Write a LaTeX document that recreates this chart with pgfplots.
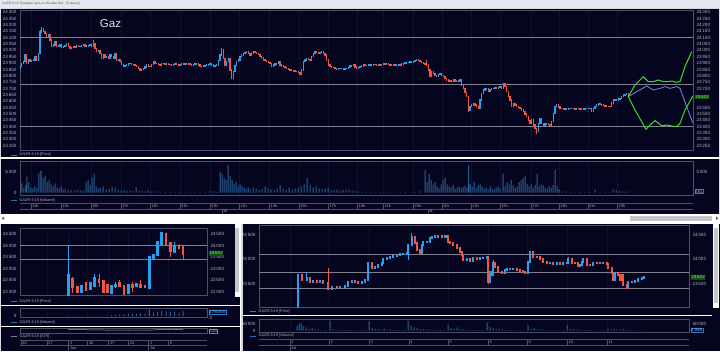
\documentclass[border=0pt]{standalone}
\usepackage{fontspec}
\setmainfont{Liberation Sans}
\usepackage{pgfplots}
\usepackage{pgfplotstable}
\pgfplotsset{compat=1.18}

\definecolor{bgc}{RGB}{5,5,32}
\definecolor{chrome}{RGB}{214,216,222}
\definecolor{titlec}{RGB}{228,232,238}
\definecolor{framec}{RGB}{78,78,102}
\definecolor{gridc}{RGB}{28,28,66}
\definecolor{lvlc}{RGB}{128,128,142}
\definecolor{txtc}{RGB}{178,178,192}
\definecolor{volc}{RGB}{42,96,150}
\definecolor{fgreen}{RGB}{58,222,32}
\definecolor{fblue}{RGB}{118,138,228}
\definecolor{boxg}{RGB}{14,82,14}
\definecolor{boxgt}{RGB}{90,255,90}
\definecolor{boxb}{RGB}{50,120,200}
\definecolor{legg}{RGB}{40,150,40}
\definecolor{legb}{RGB}{40,110,170}
\definecolor{scrollc}{RGB}{196,198,204}

\newcommand{\tf}{\fontsize{4.6}{5}\selectfont}
\newcommand{\lf}{\fontsize{3.8}{4.5}\selectfont}

\pgfplotsset{
  term/.style={scale only axis, anchor=south west, axis background/.style={fill=bgc},
    axis line style={draw=framec, line width=0.5pt}, tick style={draw=none},
    ticklabel style={font=\tf, text=txtc}, scaled ticks=false,
    /pgf/number format/assume math mode=true, /pgf/number format/1000 sep={\,},
    xticklabels={}, clip=true,
    colormap={rb}{rgb255=(240,86,70) rgb255=(40,160,238)},
    point meta min=0, point meta max=1,
    grid style={gridc, line width=0.4pt, dash pattern=on 1pt off 1pt}},
  rlab/.style={scale only axis, anchor=south west, axis line style={draw=none}, tick style={draw=none},
    ticklabel style={font=\tf, text=txtc}, scaled ticks=false,
    /pgf/number format/assume math mode=true, /pgf/number format/1000 sep={\,},
    yticklabel pos=right, xtick=\empty},
  cbody/.style={quiver={u=0, v=\thisrow{c}-\thisrow{o}, colored, every arrow/.append style={line width=#1, line cap=rect}}, point meta={\thisrow{c}>\thisrow{o}}},
  cwick/.style={quiver={u=0, v=\thisrow{h}-\thisrow{l}, colored, every arrow/.append style={line width=#1}}, point meta={\thisrow{c}>\thisrow{o}}},
}

\pgfplotstableread{
x o c
20.0 23860 23872
21.7 23872 23898
23.3 23898 23911
25.0 23911 23964
26.7 23964 23898
28.3 23898 23925
30.0 23925 23911
31.7 23911 23918
33.3 23918 23925
35.0 23925 23951
36.7 23951 23925
38.3 23925 23977
40.0 23977 24150
41.7 24150 24174
43.3 24174 24148
45.0 24148 24135
46.7 24135 24108
48.3 24108 24122
50.0 24122 24082
51.7 24082 24030
53.3 24030 24043
55.0 24043 24069
56.7 24069 24030
58.3 24030 24035
60.0 24035 24043
61.7 24043 24025
63.3 24025 24030
65.0 24030 24040
66.7 24040 24056
68.3 24056 24030
70.0 24030 24016
71.7 24016 24025
73.3 24025 24030
75.0 24030 24022
76.7 24022 24035
78.3 24035 24028
80.0 24028 24030
81.7 24030 24040
83.3 24040 24043
85.0 24043 24030
86.7 24030 24035
88.3 24035 24040
90.0 24040 24043
91.7 24043 24035
93.3 24035 24056
95.0 24056 24016
96.7 24016 23990
98.3 23990 24000
100.0 24000 23977
101.7 23977 23938
103.3 23938 23964
105.0 23964 23945
106.7 23945 23951
108.3 23951 23940
110.0 23940 23964
111.7 23964 23950
113.3 23950 23938
115.0 23938 23977
116.7 23977 23925
118.3 23925 23930
120.0 23930 23911
121.7 23911 23890
123.3 23890 23872
125.0 23872 23880
126.7 23880 23885
128.3 23885 23895
130.0 23895 23898
131.7 23898 23890
133.3 23890 23885
135.0 23885 23880
136.7 23880 23872
138.3 23872 23859
140.0 23859 23846
141.7 23846 23852
143.3 23852 23859
145.0 23859 23870
146.7 23870 23885
148.3 23885 23875
150.0 23875 23872
151.7 23872 23890
153.3 23890 23911
155.0 23911 23895
156.7 23895 23898
158.3 23898 23890
160.0 23890 23885
161.7 23885 23895
163.3 23895 23898
165.0 23898 23893
166.7 23893 23898
168.3 23898 23890
170.0 23890 23888
171.7 23888 23885
173.3 23885 23887
175.0 23887 23892
176.7 23892 23890
178.3 23890 23885
180.0 23885 23887
181.7 23887 23893
183.3 23893 23895
185.0 23895 23890
186.7 23890 23898
188.3 23898 23893
190.0 23893 23890
191.7 23890 23885
193.3 23885 23888
195.0 23888 23893
196.7 23893 23898
198.3 23898 23885
200.0 23885 23872
201.7 23872 23875
203.3 23875 23877
205.0 23877 23880
206.7 23880 23885
208.3 23885 23890
210.0 23890 23898
211.7 23898 23885
213.3 23885 23872
215.0 23872 23880
216.7 23880 23885
218.3 23885 23920
220.0 23920 23964
221.7 23964 24003
223.3 24003 23938
225.0 23938 23885
226.7 23885 23911
228.3 23911 23938
230.0 23938 23846
231.7 23846 23780
233.3 23780 23833
235.0 23833 23880
236.7 23880 23911
238.3 23911 23925
240.0 23925 23951
241.7 23951 23964
243.3 23964 23977
245.0 23977 23985
246.7 23985 23990
248.3 23990 23975
250.0 23975 23964
251.7 23964 23980
253.3 23980 23990
255.0 23990 23985
256.7 23985 23977
258.3 23977 23965
260.0 23965 23951
261.7 23951 23940
263.3 23940 23925
265.0 23925 23918
266.7 23918 23911
268.3 23911 23905
270.0 23905 23898
271.7 23898 23872
273.3 23872 23885
275.0 23885 23892
276.7 23892 23898
278.3 23898 23911
280.0 23911 23885
281.7 23885 23878
283.3 23878 23872
285.0 23872 23865
286.7 23865 23859
288.3 23859 23852
290.0 23852 23846
291.7 23846 23842
293.3 23842 23838
295.0 23838 23836
296.7 23836 23833
298.3 23833 23825
300.0 23825 23814
301.7 23814 23846
303.3 23846 23911
305.0 23911 23925
306.7 23925 23938
308.3 23938 23930
310.0 23930 23925
311.7 23925 23950
313.3 23950 23977
315.0 23977 23990
316.7 23990 23985
318.3 23985 23977
320.0 23977 23985
321.7 23985 23990
323.3 23990 23975
325.0 23975 23964
326.7 23964 23925
328.3 23925 23885
330.0 23885 23872
331.7 23872 23868
333.3 23868 23864
335.0 23864 23860
336.7 23860 23854
338.3 23854 23857
340.0 23857 23859
341.7 23859 23855
343.3 23855 23851
345.0 23851 23855
346.7 23855 23859
348.3 23859 23868
350.0 23868 23877
351.7 23877 23880
353.3 23880 23885
355.0 23885 23870
356.7 23870 23859
358.3 23859 23865
360.0 23865 23872
361.7 23872 23878
363.3 23878 23885
365.0 23885 23882
366.7 23882 23880
368.3 23880 23885
370.0 23885 23888
371.7 23888 23885
373.3 23885 23890
375.0 23890 23887
376.7 23887 23885
378.3 23885 23890
380.0 23890 23885
381.7 23885 23890
383.3 23890 23893
385.0 23893 23888
386.7 23888 23893
388.3 23893 23890
390.0 23890 23885
391.7 23885 23888
393.3 23888 23885
395.0 23885 23882
396.7 23882 23885
398.3 23885 23888
400.0 23888 23885
401.7 23885 23892
403.3 23892 23898
405.0 23898 23900
406.7 23900 23903
408.3 23903 23907
410.0 23907 23909
411.7 23909 23908
413.3 23908 23911
415.0 23911 23918
416.7 23918 23925
418.3 23925 23918
420.0 23918 23911
421.7 23911 23905
423.3 23905 23898
425.0 23898 23892
426.7 23892 23885
428.3 23885 23846
430.0 23846 23793
431.7 23793 23833
433.3 23833 23820
435.0 23820 23805
436.7 23805 23793
438.3 23793 23808
440.0 23808 23820
441.7 23820 23805
443.3 23805 23793
445.0 23793 23780
446.7 23780 23767
448.3 23767 23760
450.0 23760 23754
451.7 23754 23760
453.3 23760 23767
455.0 23767 23760
456.7 23760 23754
458.3 23754 23760
460.0 23760 23767
461.7 23767 23728
463.3 23728 23701
465.0 23701 23670
466.7 23670 23636
468.3 23636 23531
470.0 23531 23557
471.7 23557 23570
473.3 23570 23583
475.0 23583 23570
476.7 23570 23557
478.3 23557 23544
480.0 23544 23610
481.7 23610 23660
483.3 23660 23688
485.0 23688 23695
486.7 23695 23701
488.3 23701 23675
490.0 23675 23690
491.7 23690 23701
493.3 23701 23698
495.0 23698 23705
496.7 23705 23701
498.3 23701 23708
500.0 23708 23715
501.7 23715 23701
503.3 23701 23741
505.0 23741 23715
506.7 23715 23675
508.3 23675 23636
510.0 23636 23610
511.7 23610 23557
513.3 23557 23583
515.0 23583 23570
516.7 23570 23557
518.3 23557 23550
520.0 23550 23544
521.7 23544 23530
523.3 23530 23518
525.0 23518 23500
526.7 23500 23478
528.3 23478 23450
530.0 23450 23426
531.7 23426 23452
533.3 23452 23413
535.0 23413 23387
536.7 23387 23360
538.3 23360 23426
540.0 23426 23465
541.7 23465 23426
543.3 23426 23413
545.0 23413 23420
546.7 23420 23426
548.3 23426 23418
550.0 23418 23413
551.7 23413 23439
553.3 23439 23505
555.0 23505 23557
556.7 23557 23570
558.3 23570 23555
560.0 23555 23544
561.7 23544 23540
563.3 23540 23538
565.0 23538 23542
566.7 23542 23536
568.3 23536 23540
570.0 23540 23544
571.7 23544 23540
573.3 23540 23541
575.0 23541 23538
576.7 23538 23544
578.3 23544 23540
580.0 23540 23538
581.7 23538 23542
583.3 23542 23536
585.0 23536 23540
586.7 23540 23542
588.3 23542 23540
590.0 23540 23544
591.7 23544 23520
593.3 23520 23540
595.0 23540 23557
596.7 23557 23570
598.3 23570 23583
600.0 23583 23575
601.7 23575 23570
603.3 23570 23565
605.0 23565 23562
606.7 23562 23560
608.3 23560 23558
610.0 23558 23557
611.7 23557 23585
613.3 23585 23610
615.0 23610 23605
616.7 23605 23610
618.3 23610 23618
620.0 23618 23623
621.7 23623 23636
623.3 23636 23649
625.0 23649 23655
626.7 23655 23662
628.3 23662 23636
}\toptbl

\pgfplotstableread{
x o c l h
40.0 23977 24150 23970 24160
41.7 24150 24174 24140 24185
93.3 24035 24056 24030 24082
221.7 23964 24003 23960 24015
426.7 23892 23885 23880 23925
468.3 23636 23531 23515 23640
536.7 23387 23360 23345 23390
}\topwick

\pgfplotstableread{
x o c l h
68.3 21800 22715 21780 24000
72.7 22530 22216 21960 22640
77.3 22190 22000 21950 22230
81.3 22000 22216 21990 22300
86.0 22358 22102 22080 22400
90.3 22144 22358 22120 22400
94.7 22287 22573 22250 22787
99.0 22500 22430 22216 22750
103.3 22450 22000 21980 22470
107.3 22290 22000 21950 22320
111.3 21950 22216 21930 22260
115.3 22260 22290 22150 22430
119.3 22358 22250 22220 22500
124.0 22216 21930 21900 22250
128.3 21940 22287 21930 22300
132.7 22290 22240 21980 22430
136.7 22250 22300 22230 22330
140.7 22290 22216 22190 22500
145.0 22250 22220 22200 22280
149.3 22200 23500 22180 23520
153.3 23480 23600 23380 23620
157.7 23594 24145 23560 24180
161.7 24102 24537 24080 24560
166.0 24508 24072 24060 24540
170.3 24102 23783 23490 24120
174.7 23739 23957 23700 24145
179.0 23990 23940 23900 24072
183.0 23957 23667 23405 23980
}\bltbl

\pgfplotstableread{
x o c
298.3 23022 23678
301.7 23678 23575
306.7 23575 23610
310.0 23610 23541
313.3 23541 23562
316.7 23562 23541
320.0 23541 23562
323.3 23562 23507
328.3 23507 23384
331.7 23384 23438
336.7 23438 23425
340.0 23425 23438
345.0 23438 23452
348.3 23452 23541
351.7 23541 23562
355.0 23562 23541
358.3 23541 23520
361.7 23520 23541
365.0 23541 23575
368.3 23575 23918
371.7 23918 23815
375.0 23815 23849
378.3 23849 23884
381.7 23884 23918
383.3 23918 24000
386.7 24000 24021
390.0 24021 24055
393.3 24055 24068
396.7 24068 24089
400.0 24089 24103
403.3 24103 24116
406.7 24116 24123
408.3 24123 24295
411.7 24295 24466
415.0 24466 24329
416.7 24329 24192
420.0 24192 24123
421.7 24123 24295
423.3 24295 24349
426.7 24349 24363
430.0 24363 24432
431.7 24432 24466
435.0 24466 24480
438.3 24480 24466
441.7 24466 24473
445.0 24473 24466
446.7 24466 24480
448.3 24480 24363
450.0 24363 24329
453.3 24329 24295
456.7 24295 24226
460.0 24226 24158
461.7 24158 24089
463.3 24089 23986
466.7 23986 24000
470.0 24000 23973
473.3 23973 24021
476.7 24021 24000
480.0 24000 24021
483.3 24021 24034
486.7 24034 24055
488.3 24055 23541
490.0 23541 23747
491.7 23747 23678
493.3 23678 23918
495.0 23918 23836
498.3 23836 23747
501.7 23747 23726
505.0 23726 23781
506.7 23781 23795
510.0 23795 23800
513.3 23800 23806
516.7 23806 23788
520.0 23788 23767
523.3 23767 23747
525.0 23747 23726
528.3 23726 23952
530.0 23952 24158
533.3 24158 24055
536.7 24055 24041
540.0 24041 24000
543.3 24000 23952
546.7 23952 23918
550.0 23918 23931
553.3 23931 23904
556.7 23904 23918
560.0 23918 23904
563.3 23904 23918
566.7 23918 23931
568.3 23931 24000
571.7 24000 23931
575.0 23931 23918
578.3 23918 23863
580.0 23863 23884
581.7 23884 23952
583.3 23952 24000
586.7 24000 23884
590.0 23884 23880
593.3 23880 23918
596.7 23918 23915
600.0 23915 23931
603.3 23931 23925
606.7 23925 23904
608.3 23904 23815
611.7 23815 23712
613.3 23712 23575
615.0 23575 23712
618.3 23712 23678
620.0 23678 23575
621.7 23575 23678
623.3 23678 23473
626.7 23473 23425
628.3 23425 23541
631.7 23541 23536
635.0 23536 23562
638.3 23562 23589
641.7 23589 23623
644.0 23623 23644
}\brtbl

\pgfplotstableread{
x o c l h
298.3 23022 23678 23010 23690
306.7 23575 23610 23560 23747
328.3 23507 23384 23370 23815
368.3 23575 23918 23560 23930
408.3 24123 24295 23986 24300
411.7 24295 24466 24290 24534
488.3 24055 23541 23500 24060
493.3 23678 23918 23670 23986
528.3 23726 23952 23720 23960
530.0 23952 24158 23950 24180
568.3 23931 24000 23925 24055
583.3 23952 24000 23940 24021
626.7 23473 23425 23390 23480
}\brwick

\begin{document}
\begin{tikzpicture}
\useasboundingbox (0pt,0pt) rectangle (720pt,-351pt);
\fill[chrome] (0pt,0pt) rectangle (720pt,-351pt);
\fill[titlec] (0pt,0pt) rectangle (720pt,-8pt);
\node[anchor=west,inner sep=0pt,font=\fontsize{3.3}{4}\selectfont,text=black!65] at (2pt,-4pt) {GAZR-9.19 Графики цены и объема №4 - (5 минут)};
\fill[bgc] (1pt,-9pt) rectangle (719pt,-214pt);
\fill[white] (0pt,-214pt) rectangle (720pt,-222.5pt);
\fill[scrollc] (630pt,-216pt) rectangle (712pt,-220.5pt);
\fill[black!60] (716pt,-216.5pt) -- (718.5pt,-218.3pt) -- (716pt,-220pt) -- cycle;
\fill[black!60] (4pt,-216.5pt) -- (1.5pt,-218.3pt) -- (4pt,-220pt) -- cycle;
\fill[bgc] (1pt,-223.5pt) rectangle (239.5pt,-351pt);
\fill[bgc] (243pt,-223.5pt) rectangle (720pt,-351pt);
\draw[white,line width=1.2pt] (0pt,-158pt) -- (720pt,-158pt);
\draw[white,line width=1pt] (1pt,-305pt) -- (239.5pt,-305pt);
\draw[white,line width=1pt] (1pt,-326.7pt) -- (239.5pt,-326.7pt);
\draw[white,line width=1pt] (243pt,-315.7pt) -- (712pt,-315.7pt);
\fill[white] (234.5pt,-224pt) rectangle (239.5pt,-297pt);
\fill[scrollc] (235.3pt,-228pt) rectangle (238.7pt,-292pt);
\fill[white] (713pt,-224pt) rectangle (718.5pt,-308pt);
\fill[scrollc] (713.8pt,-228pt) rectangle (717.7pt,-303pt);

% ---------- top price ----------
\begin{axis}[term, at={(20pt,-150pt)}, width=673pt, height=140pt,
  xmin=20, xmax=693, ymin=23216, ymax=24318,
  ytick={23250,23300,23350,23400,23450,23500,23550,23600,23650,23700,23750,23800,23850,23900,23950,24000,24050,24100,24150,24200,24250,24300},
  xtick={31,61,90.7,120.7,150,180,210,239.3,269.3,299,328.3,357.3,383.3,413.3,441.7,471,500,531,559,587.7,617.3}, xmajorgrids]
\addplot[lvlc, line width=0.8pt] coordinates {(20,24100) (693,24100)};
\addplot[lvlc, line width=0.8pt] coordinates {(20,23730) (693,23730)};
\addplot[lvlc, line width=0.8pt] coordinates {(20,23400) (693,23400)};
\addplot[cwick=0.5pt] table[x=x,y=l] {\topwick};
\addplot[cbody=1.3pt] table[x=x,y=o] {\toptbl};
\addplot[fblue, line width=0.8pt] coordinates {(628.3,23636) (636.7,23675) (646.7,23720) (653.3,23688) (660,23701) (665,23715) (670,23701) (676.7,23715) (680,23701) (686.7,23557) (693,23426)};
\addplot[fgreen, line width=1pt] coordinates {(628.3,23636) (635,23728) (643.3,23793) (648.3,23754) (653.3,23754) (658.3,23767) (663.3,23754) (668.3,23754) (671.7,23759) (676.7,23749) (680,23754) (685,23872) (691.7,23990)};
\addplot[fgreen, line width=1pt] coordinates {(628.3,23636) (635,23531) (646,23379) (650,23413) (655,23447) (661.7,23407) (666.7,23413) (671.7,23405) (676.7,23400) (680,23426) (685,23531) (693,23643)};
\end{axis}
\begin{axis}[rlab, at={(20pt,-150pt)}, width=673pt, height=140pt,
  xmin=20, xmax=693, ymin=23216, ymax=24318,
  ytick={23250,23300,23350,23400,23450,23500,23550,23700,23750,23800,23850,23900,23950,24000,24050,24100,24150,24200,24250,24300}]
\end{axis}

% ---------- top volume ----------
\begin{axis}[term, at={(20pt,-195pt)}, width=673pt, height=33.3pt,
  xmin=20, xmax=693, ymin=-548, ymax=7380, ytick={0,5000},
  xtick={31,61,90.7,120.7,150,180,210,239.3,269.3,299,328.3,357.3,383.3,413.3,441.7,471,500,531,559,587.7,617.3}, xmajorgrids]
\addplot[ybar, bar width=1pt, fill=volc, draw=none] coordinates {
(20,1500)(22,2200)(24,1200)(26,1800)(27,3800)(29,2500)(31,1200)(33,1000)(35,1500)(37,1200)(39,4800)(41,5200)(43,3500)(45,4000)(47,2500)(49,3000)(51,2000)(53,1500)(55,2200)(57,1200)(59,1000)(61,1500)(63,800)(65,900)(68,600)(71,700)(74,500)(77,600)(80,700)(83,500)(86,2500)(88,3000)(90,1800)(92,3600)(94,4500)(96,1500)(98,1000)(100,1200)(103,1500)(106,800)(109,900)(112,1300)(115,1200)(118,700)(121,500)(124,600)(127,400)(130,500)(133,400)(136,1300)(139,500)(142,400)(145,300)(148,600)(151,300)(154,200)(157,300)(160,200)(165,150)(170,200)(175,150)(180,200)(185,150)(190,100)(195,150)(200,100)(205,120)(210,400)(213,300)(216,200)(220,5000)(222,4500)(224,3500)(226,3000)(228,6600)(230,4000)(232,3000)(234,2000)(236,2500)(238,1500)(240,2000)(242,1500)(244,1200)(246,1000)(248,1300)(250,800)(253,1200)(256,1000)(259,700)(262,900)(265,1500)(268,1000)(271,800)(274,600)(277,1000)(280,1800)(283,900)(286,700)(289,1200)(292,600)(295,1000)(298,1200)(301,1500)(304,2000)(307,3500)(310,1800)(313,1200)(316,1500)(319,1000)(322,800)(325,1000)(328,1200)(331,700)(334,600)(337,800)(340,500)(343,700)(346,600)(349,800)(352,500)(355,400)(358,300)(362,200)(366,150)(370,200)(375,100)(380,150)(385,100)(390,150)(395,100)(400,120)(405,150)(410,100)(415,200)(420,300)
(425,5500)(427,2500)(429,4500)(431,3000)(433,2000)(435,2500)(437,1500)(439,1000)(441,2000)(443,3000)(445,3500)(447,2000)(449,1500)(451,1200)(453,1800)(455,1000)(457,1200)(459,1500)(461,1000)(463,1300)(465,1600)(467,1200)(468.5,6500)(470,2000)(472,1500)(474,2500)(476,1200)(478,1800)(480,2000)(482,1500)(484,1000)(486,1200)(488,800)(490,1500)(492,1000)(494,800)(496,1200)(498,1500)(500,1000)(503,4500)(505,1500)(507,2500)(509,2000)(511,3000)(513,1800)(515,1200)(517,1500)(519,2500)(521,3000)(523,3500)(525,4000)(527,2000)(529,1500)(531,2000)(533,1200)(535,1800)(537,4500)(539,1500)(541,2000)(543,1800)(545,1200)(547,1000)(549,1500)(551,1200)(553,1800)(555,5500)(557,1500)(559,800)(562,300)(566,200)(570,150)(575,100)(580,150)(585,100)(590,200)(595,800)(600,150)(605,100)(610,150)(613,800)(616,700)(619,400)(622,300)(625,250)(628,261)};
\end{axis}
\begin{axis}[rlab, at={(20pt,-195pt)}, width=673pt, height=33.3pt,
  xmin=20, xmax=693, ymin=-548, ymax=7380, ytick={5000}]
\end{axis}

% ---------- bottom-left price ----------
\begin{axis}[term, at={(20pt,-295pt)}, width=187pt, height=67pt,
  xmin=20, xmax=207, ymin=21856, ymax=24774,
  ytick={22000,22500,23000,23500,24000,24500},
  xtick={20.7,46.7,68.3,87.3,108.3,128.3,148.3,168.3}, xmajorgrids]
\addplot[lvlc, line width=0.8pt] coordinates {(20,24000) (207,24000)};
\addplot[lvlc, line width=0.8pt] coordinates {(20,23400) (207,23400)};
\addplot[cwick=0.6pt] table[x=x,y=l] {\bltbl};
\addplot[cbody=2.8pt] table[x=x,y=o] {\bltbl};
\end{axis}
\begin{axis}[rlab, at={(20pt,-295pt)}, width=187pt, height=67pt,
  xmin=20, xmax=207, ymin=21856, ymax=24774,
  ytick={22000,22500,23000,23500,24000,24500}]
\end{axis}

% ---------- bottom-left volume ----------
\begin{axis}[term, at={(20pt,-317pt)}, width=187pt, height=9pt,
  xmin=20, xmax=207, ymin=-34300, ymax=274400, ytick={0},
  xtick={20.7,46.7,68.3,87.3,108.3,128.3,148.3,168.3}, xmajorgrids]
\addplot[ybar, bar width=1pt, fill=volc, draw=none] coordinates {
(68.3,8000)(72.7,6000)(77.3,5000)(81.3,6000)(86,5000)(90.3,6000)(94.7,7000)(99,6000)(103.3,8000)(107.3,9000)(111.3,30000)(115.3,40000)(119.3,45000)(124,60000)(128.3,70000)(132.7,80000)(136.7,75000)(140.7,90000)(145,80000)(149.3,230000)(153.3,120000)(157.7,150000)(161.7,170000)(166,160000)(170.3,140000)(174.7,150000)(179,120000)(183,178000)};
\end{axis}

% ---------- bottom-left ATR ----------
\begin{axis}[term, at={(20pt,-333.5pt)}, width=187pt, height=5.5pt,
  xmin=20, xmax=207, ymin=0, ymax=1, ytick=\empty,
  xtick={20.7,46.7,68.3,87.3,108.3,128.3,148.3,168.3}, xmajorgrids]
\addplot[gray!70, line width=0.5pt] coordinates {(68.3,0.7) (90,0.68) (110,0.62) (130,0.6) (150,0.62) (160,0.72) (170,0.75) (183,0.7)};
\end{axis}

% ---------- bottom-right price ----------
\begin{axis}[term, at={(259pt,-307.7pt)}, width=430pt, height=82.7pt,
  xmin=259, xmax=689, ymin=23007, ymax=24705,
  ytick={23500,24000,24500},
  xtick={289.7,329,369,408.7,448,488,527,567,607}, xmajorgrids]
\addplot[lvlc, line width=0.8pt] coordinates {(259,24100) (689,24100)};
\addplot[lvlc, line width=0.8pt] coordinates {(259,23730) (689,23730)};
\addplot[lvlc, line width=0.8pt] coordinates {(259,23400) (689,23400)};
\addplot[cwick=0.5pt] table[x=x,y=l] {\brwick};
\addplot[cbody=1.9pt] table[x=x,y=o] {\brtbl};
\end{axis}
\begin{axis}[rlab, at={(259pt,-307.7pt)}, width=430pt, height=82.7pt,
  xmin=259, xmax=689, ymin=23007, ymax=24705, ytick={23500,24000,24500}]
\end{axis}

% ---------- bottom-right volume ----------
\begin{axis}[term, at={(259pt,-332pt)}, width=430pt, height=13pt,
  xmin=259, xmax=689, ymin=-10000, ymax=90000, ytick={0,50000},
  xtick={289.7,329,369,408.7,448,488,527,567,607}, xmajorgrids]
\addplot[ybar, bar width=1pt, fill=volc, draw=none] coordinates {
(297,40000)(299,55000)(301,60000)(303,40000)(306,25000)(309,15000)(312,20000)(315,10000)(318,8000)(321,6000)(325,5000)(330,77000)(333,12000)(336,8000)(339,6000)(342,5000)(345,5000)(348,6000)(351,4000)(354,5000)(357,4000)(360,5000)(363,6000)(366,8000)(369,75000)(372,20000)(375,15000)(378,12000)(381,10000)(384,18000)(387,10000)(390,8000)(393,6000)(396,5000)(399,4000)(402,5000)(405,6000)(408,75000)(411,40000)(414,25000)(417,20000)(420,15000)(423,12000)(426,10000)(429,8000)(432,6000)(435,5000)(438,4000)(441,5000)(444,6000)(448,45000)(451,20000)(454,15000)(457,25000)(460,12000)(463,10000)(466,8000)(469,6000)(472,5000)(475,4000)(478,5000)(481,4000)(484,5000)(487,65000)(490,25000)(493,20000)(496,15000)(499,12000)(502,10000)(505,8000)(508,5000)(511,5000)(514,4000)(517,4000)(520,5000)(523,4000)(528,40000)(531,15000)(534,20000)(537,10000)(540,8000)(543,6000)(546,5000)(549,4000)(552,5000)(555,4000)(558,3000)(561,3000)(564,4000)(567,45000)(570,15000)(573,12000)(576,10000)(579,8000)(582,6000)(585,5000)(588,4000)(591,4000)(594,3000)(597,3000)(600,3000)(603,4000)(608,12000)(611,10000)(614,12000)(617,8000)(620,10000)(623,12000)(626,8000)(629,5000)(632,4000)(635,3000)(638,3000)(641,2956)};
\end{axis}
\begin{axis}[rlab, at={(259pt,-332pt)}, width=430pt, height=13pt,
  xmin=259, xmax=689, ymin=-10000, ymax=90000, ytick={50000}]
\end{axis}

% ---------- texts: Gaz, legends, time rows, boxes ----------
\node[font=\fontsize{11.5}{12}\selectfont, text={rgb,255:red,222;green,222;blue,230}] at (110.5pt,-24pt) {Gaz};

\draw[legg,line width=0.8pt] (11pt,-155pt) -- (17pt,-155pt);
\node[anchor=west,inner sep=0pt,font=\lf,text=txtc] at (19.5pt,-155pt) {GAZR-9.19 [Price]};
\draw[legb,line width=0.8pt] (11pt,-200.7pt) -- (17pt,-200.7pt);
\node[anchor=west,inner sep=0pt,font=\lf,text=txtc] at (19.5pt,-200.7pt) {GAZR-9.19 [Volume]};
\draw[legg,line width=0.8pt] (11pt,-301.7pt) -- (17pt,-301.7pt);
\node[anchor=west,inner sep=0pt,font=\lf,text=txtc] at (19.5pt,-301.7pt) {GAZR-9.19 [Price]};
\draw[legb,line width=0.8pt] (11pt,-322.7pt) -- (17pt,-322.7pt);
\node[anchor=west,inner sep=0pt,font=\lf,text=txtc] at (19.5pt,-322.7pt) {GAZR-9.19 [Volume]};
\draw[gray,line width=0.8pt] (11pt,-336.7pt) -- (17pt,-336.7pt);
\node[anchor=west,inner sep=0pt,font=\lf,text=txtc] at (19.5pt,-336.7pt) {GAZR-9.19 [ATR]};
\draw[legg,line width=0.8pt] (250pt,-311.7pt) -- (256pt,-311.7pt);
\node[anchor=west,inner sep=0pt,font=\lf,text=txtc] at (258.5pt,-311.7pt) {GAZR-9.19 [Price]};
\draw[legb,line width=0.8pt] (250pt,-336pt) -- (256pt,-336pt);
\node[anchor=west,inner sep=0pt,font=\lf,text=txtc] at (258.5pt,-336pt) {GAZR-9.19 [Volume]};

% top time row
\draw[framec,line width=0.4pt] (20pt,-203.5pt) -- (693pt,-203.5pt);
\draw[framec,line width=0.4pt] (20pt,-208.7pt) -- (693pt,-208.7pt);
\foreach \x/\t in {31/11h,61/13h,90.7/15h,120.7/17h,150/19h,180/21h,210/23h,239.3/11h,269.3/13h,299/15h,328.3/17h,357.3/19h,383.3/21h,413.3/23h,441.7/11h,471/13h,500/15h,531/17h,559/19h,587.7/21h,617.3/23h}{
  \draw[framec,line width=0.4pt] (\x pt,-203.5pt) -- (\x pt,-208.7pt);
  \node[anchor=west,inner sep=0pt,font=\lf,text=txtc] at (\x pt+1.2pt,-206.1pt) {\t};
}
\foreach \x/\t in {221.7/10,427.7/11}{
  \draw[framec,line width=0.4pt] (\x pt,-208.7pt) -- (\x pt,-213.5pt);
  \node[anchor=west,inner sep=0pt,font=\lf,text=txtc] at (\x pt+1.2pt,-211.3pt) {\t};
}

% bottom-left time row
\draw[framec,line width=0.4pt] (20pt,-340pt) -- (207pt,-340pt);
\draw[framec,line width=0.4pt] (20pt,-345.3pt) -- (207pt,-345.3pt);
\foreach \x/\t in {20.7/20,46.7/27,68.3/3,87.3/10,108.3/17,128.3/24,148.3/1,168.3/8}{
  \draw[framec,line width=0.4pt] (\x pt,-340pt) -- (\x pt,-345.3pt);
  \node[anchor=west,inner sep=0pt,font=\lf,text=txtc] at (\x pt+1.5pt,-342.7pt) {\t};
}
\foreach \x/\t in {68.3/Jun,148.3/Jul}{
  \draw[framec,line width=0.4pt] (\x pt,-345.3pt) -- (\x pt,-351pt);
  \node[anchor=west,inner sep=0pt,font=\lf,text=txtc] at (\x pt+1.5pt,-348.5pt) {\t};
}

% bottom-right time row
\draw[framec,line width=0.4pt] (259pt,-339.3pt) -- (689pt,-339.3pt);
\draw[framec,line width=0.4pt] (259pt,-344.7pt) -- (689pt,-344.7pt);
\foreach \x/\t in {289.7/1,329/2,369/3,408.7/4,448/5,488/8,527/9,567/10,607/11}{
  \draw[framec,line width=0.4pt] (\x pt,-339.3pt) -- (\x pt,-344.7pt);
  \node[anchor=west,inner sep=0pt,font=\lf,text=txtc] at (\x pt+1.5pt,-342pt) {\t};
}
\draw[framec,line width=0.4pt] (289.7pt,-344.7pt) -- (289.7pt,-351pt);
\node[anchor=west,inner sep=0pt,font=\lf,text=txtc] at (291.2pt,-348.3pt) {Jul};

% value boxes
\node[anchor=west,fill=boxg,text=boxgt,inner sep=0.6pt,font=\tf] at (694.5pt,-96.8pt) {23\,622};
\node[anchor=west,draw=boxb,text=boxb!60!white,fill=bgc,inner sep=0.5pt,line width=0.4pt,font=\tf] at (694.5pt,-191.5pt) {261};
\node[anchor=west,fill=boxg,text=boxgt,inner sep=0.6pt,font=\tf] at (208.5pt,-253.3pt) {23\,622};
\node[anchor=west,draw=boxb,text=boxb!60!white,fill=bgc,inner sep=0.5pt,line width=0.4pt,font=\tf] at (208.5pt,-312pt) {178\,000};
\node[anchor=west,inner sep=0pt,font=\tf,text=txtc] at (209.5pt,-317.6pt) {0};
\node[anchor=west,draw=gray,text=gray!80!white,fill=bgc,inner sep=0.5pt,line width=0.4pt,font=\tf] at (208.5pt,-331pt) {535};
\node[anchor=west,fill=boxg,text=boxgt,inner sep=0.6pt,font=\tf] at (690.5pt,-277.3pt) {23\,622};
\node[anchor=west,draw=boxb,text=boxb!60!white,fill=bgc,inner sep=0.5pt,line width=0.4pt,font=\tf] at (690.5pt,-330.3pt) {2\,956};

% dividers drawn last
\fill[chrome] (239.5pt,-222.5pt) rectangle (243pt,-351pt);
\draw[white,line width=0.8pt] (240pt,-222.5pt) -- (240pt,-351pt);
\draw[white,line width=0.8pt] (0pt,-223pt) -- (720pt,-223pt);
\end{tikzpicture}
\end{document}
